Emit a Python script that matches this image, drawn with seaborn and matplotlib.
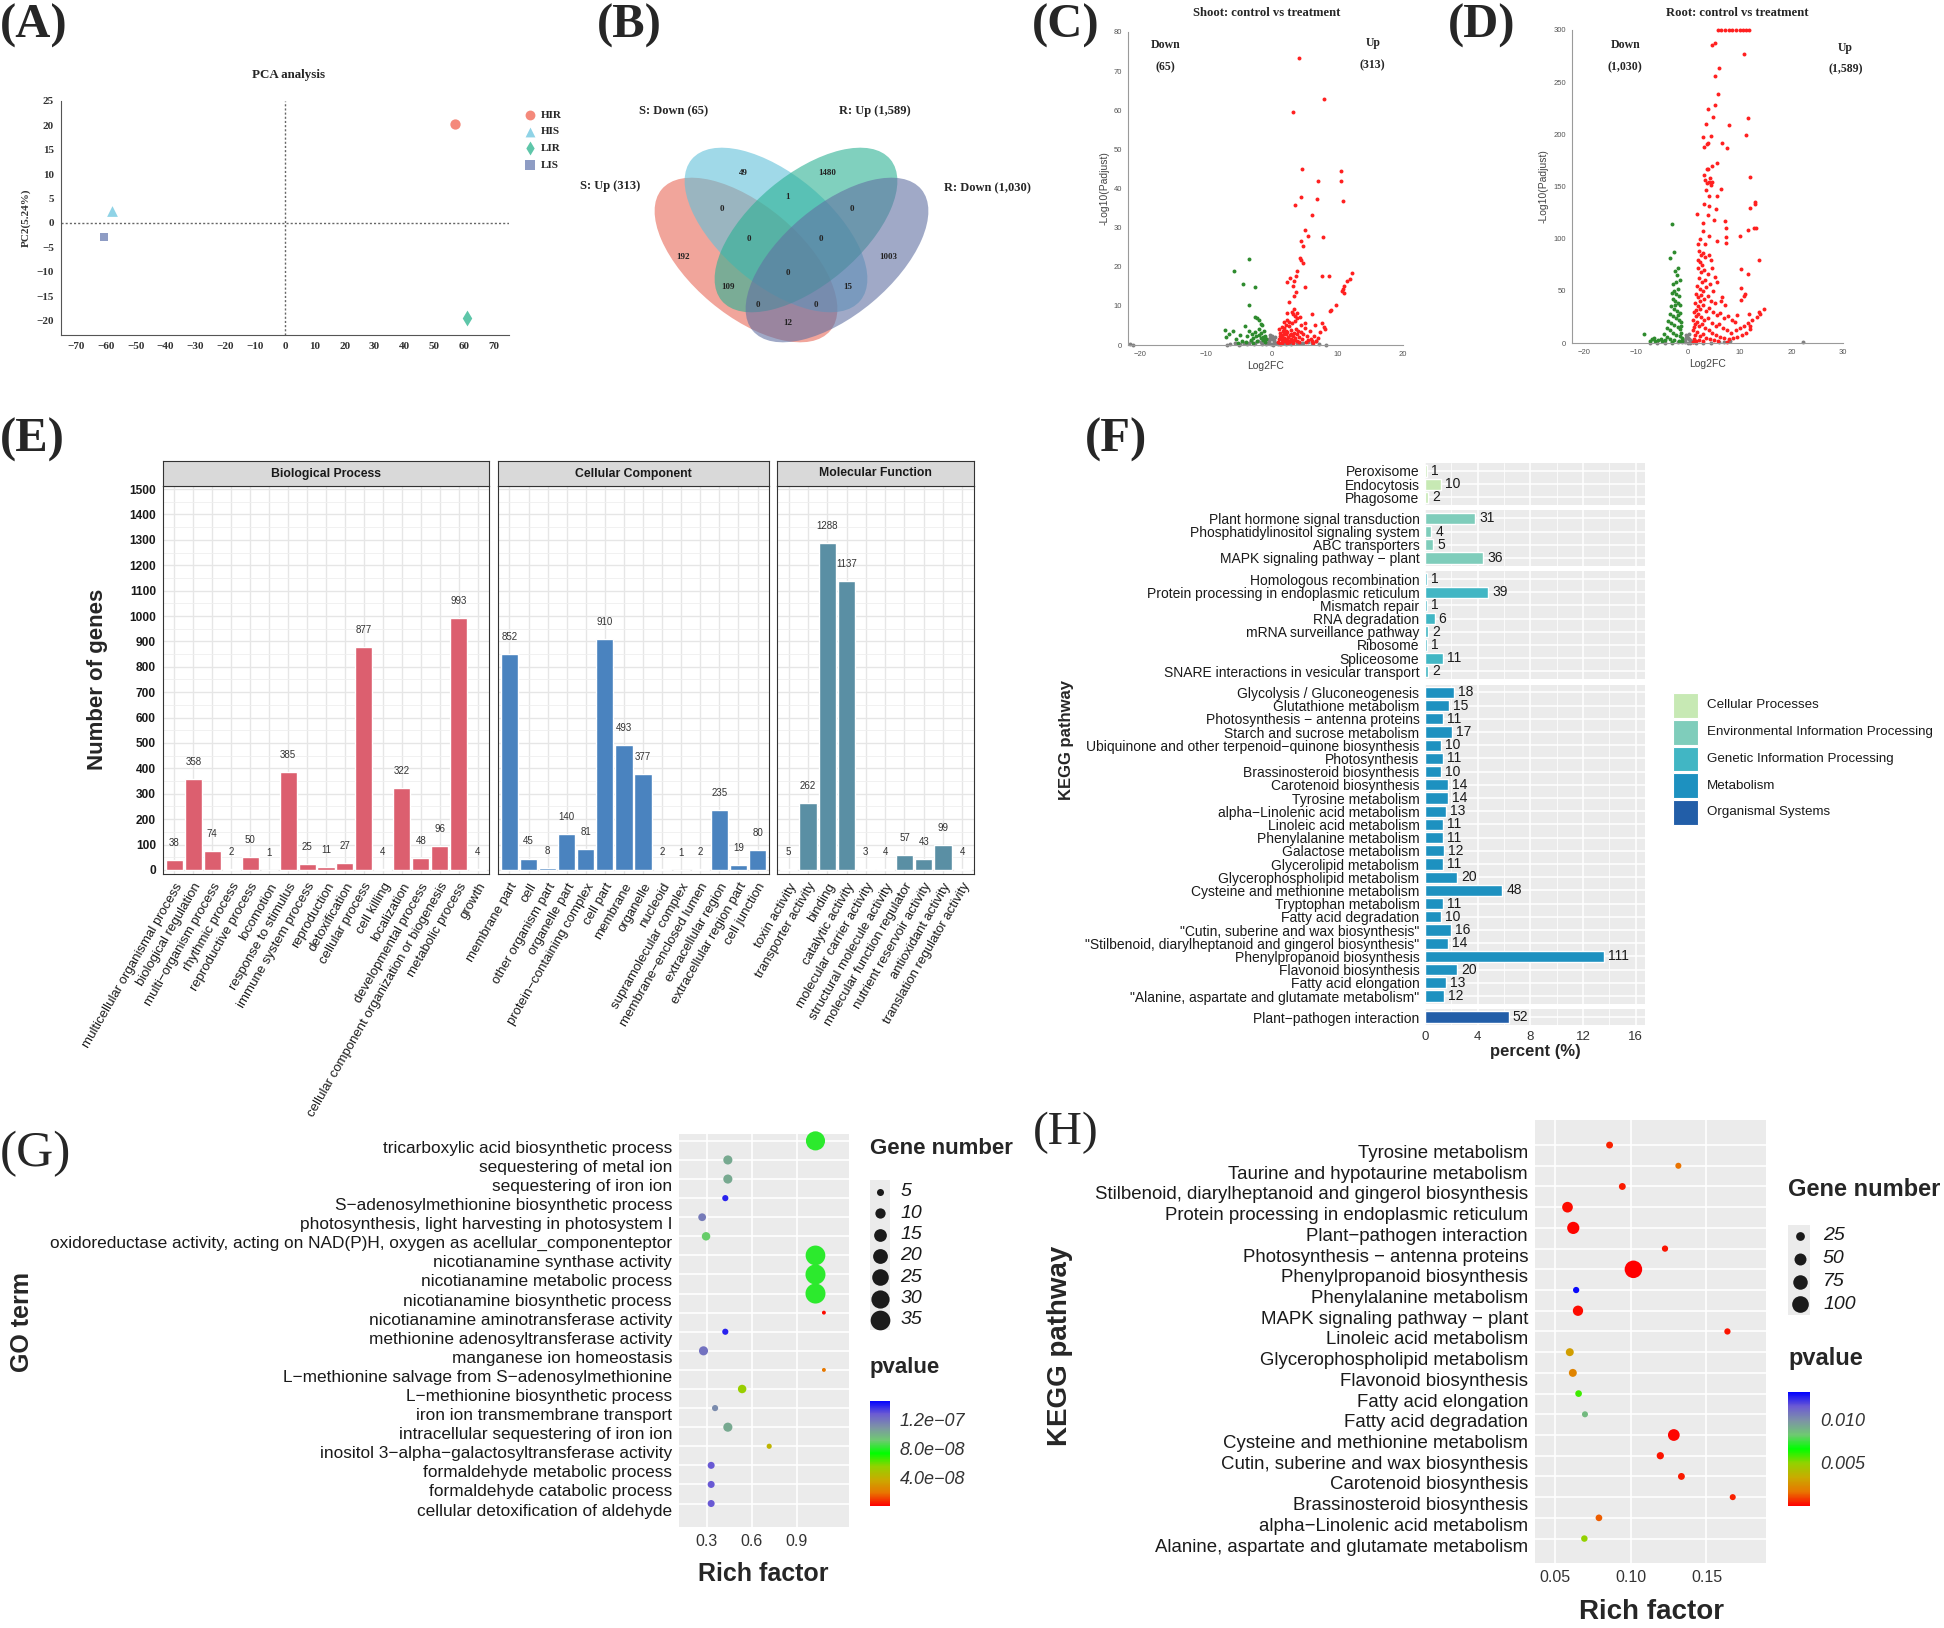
import numpy as np
import pandas as pd
import matplotlib
matplotlib.use("Agg")
import matplotlib.pyplot as plt
import seaborn as sns
from matplotlib.patches import Ellipse, Rectangle
from matplotlib.colors import LinearSegmentedColormap, Normalize
from matplotlib.ticker import MultipleLocator

W, H = 1944, 1628

# (A) PCA
pca_group = ["HIR", "HIS", "LIR", "LIS"]
pca_pc1 = [57.0, -58.0, 61.0, -60.5]
pca_pc2 = [20.3, 2.5, -19.5, -2.8]

# (B) Venn
venn_labels = ["S: Up (313)", "S: Down (65)", "R: Up (1,589)", "R: Down (1,030)"]
venn_counts = [49, 1480, 1, 0, 0, 0, 0, 192, 1003, 0, 109, 15, 0, 0, 12]

# (C) shoot volcano  (log2FC, -log10 padj)
shoot_ns = [(-21.6, 0.15), (-21.1, 0.1), (-6.8, 0.1), (-6.3, 0.3), (-5.6, 0.5), (-5.0, 0.1), (-4.9, 0.35),
            (-4.3, 0.6), (-3.7, 0.3), (-3.4, 0.45), (-3.1, 0.9), (-2.7, 0.2), (-2.6, 0.55), (-2.1, 1.0),
            (-1.7, 0.8), (-1.5, 0.2), (-1.3, 1.3), (-1.0, 0.7), (-0.8, 0.2), (-0.7, 1.5), (-0.5, 0.5),
            (-0.4, 1.1), (-0.3, 1.9), (-0.2, 2.6), (-0.1, 0.3), (0.0, 2.2), (0.1, 1.6), (0.2, 0.1),
            (0.3, 0.8), (0.4, 1.2), (0.5, 2.1), (0.7, 0.4), (0.9, 0.2), (1.4, 0.3), (1.8, 0.6), (2.1, 0.2),
            (2.5, 0.5), (2.9, 0.3), (3.3, 0.7), (3.8, 0.4), (4.3, 0.6), (4.7, 0.5), (5.5, 0.8), (6.1, 0.6),
            (6.7, 0.9), (7.2, 0.3), (8.3, 0.1)]
shoot_down = [(-7.1, 3.8), (-6.9, 2.0), (-6.5, 2.8), (-5.9, 3.7), (-5.5, 1.5), (-5.2, 0.6), (-4.9, 2.6),
              (-4.6, 1.0), (-4.0, 4.9), (-3.9, 0.7), (-3.7, 2.2), (-3.4, 3.5), (-3.2, 1.3), (-3.0, 2.8),
              (-2.9, 0.5), (-2.8, 1.7), (-2.6, 3.2), (-2.4, 2.3), (-2.2, 1.1), (-2.0, 2.6), (-1.9, 4.1),
              (-1.7, 1.8), (-1.6, 3.0), (-1.5, 5.1), (-1.4, 2.1), (-1.3, 1.2), (-1.2, 3.6), (-1.1, 0.8),
              (-1.0, 2.4), (-0.9, 1.5), (-2.5, 7.2), (-2.2, 6.8), (-2.0, 6.4), (-1.7, 5.4), (-3.4, 10.1),
              (-2.5, 14.8), (-4.4, 15.6), (-5.7, 18.8), (-3.5, 22.1)]
shoot_up = [(4.2, 73.3), (8.0, 62.9), (3.25, 59.5), (4.6, 44.9), (10.6, 44.5), (10.55, 42.0), (7.05, 42.0),
            (4.4, 37.8), (10.9, 36.9), (6.9, 37.4), (3.5, 35.8), (6.1, 33.2), (5.0, 29.3), (5.6, 27.9),
            (7.8, 27.5), (4.5, 26.7), (4.8, 25.2), (4.3, 22.3), (4.5, 21.7), (4.7, 20.9), (3.8, 18.9),
            (3.7, 17.7), (7.7, 17.7), (8.7, 17.7), (12.3, 18.5), (11.9, 16.8), (11.5, 16.4), (2.8, 17.2),
            (2.3, 16.1), (3.4, 16.4), (3.25, 15.1), (5.0, 14.9), (10.96, 15.1), (10.86, 14.2), (10.7, 13.9),
            (11.0, 13.4), (3.65, 13.6), (3.4, 12.5), (2.7, 11.0), (3.45, 9.1), (9.85, 10.1), (9.0, 9.0),
            (8.9, 8.7), (2.3, 8.3), (3.1, 8.4), (3.86, 8.1), (6.1, 7.8),
            (1.0, 0.8), (1.1, 1.5), (1.2, 2.2), (1.3, 3.0), (1.4, 0.5), (1.5, 1.2), (1.6, 2.6), (1.7, 3.6),
            (1.8, 1.8), (1.9, 4.3), (2.0, 0.9), (2.1, 2.9), (2.2, 5.2), (2.3, 1.4), (2.4, 3.3), (2.5, 2.0),
            (2.6, 4.8), (2.7, 0.7), (2.8, 2.5), (2.9, 3.9), (3.0, 1.6), (3.1, 5.6), (3.2, 2.3), (3.3, 0.9),
            (3.4, 3.1), (3.5, 6.2), (3.6, 1.9), (3.7, 4.0), (3.8, 2.7), (3.9, 1.1), (4.0, 3.5), (4.2, 2.1),
            (4.4, 5.0), (4.6, 1.5), (4.8, 2.9), (5.0, 4.3), (5.2, 0.8), (5.4, 2.4), (5.6, 1.3), (5.9, 3.6),
            (6.2, 1.0), (6.5, 2.2), (6.8, 0.9), (7.1, 1.8), (7.4, 3.3), (7.7, 5.6), (7.9, 4.6), (8.1, 4.0),
            (6.0, 1.5), (6.3, 0.6), (1.2, 0.3), (1.6, 0.6), (2.0, 1.6), (2.4, 0.4), (2.8, 1.1), (3.2, 0.5),
            (1.4, 2.0), (1.8, 2.7), (2.2, 3.6), (2.6, 1.0), (3.0, 2.8), (3.4, 1.4), (4.1, 0.7), (4.5, 3.4),
            (1.1, 4.0), (1.5, 4.6), (1.9, 5.8), (2.3, 6.5), (2.7, 6.0), (3.6, 7.4), (3.3, 7.9), (3.9, 6.8),
            (4.3, 7.1), (5.1, 5.6), (6.6, 5.2)]

# (D) root volcano
root_ns = [(-7.3, 0.3), (-6.0, 0.2), (-4.5, 0.4), (-3.0, 0.3), (-2.0, 0.6), (-1.2, 1.0), (-0.8, 2.0),
           (-0.6, 0.5), (-0.5, 3.0), (-0.4, 8.0), (-0.3, 4.5), (-0.1, 6.0), (0.0, 0.2), (0.1, 5.0),
           (0.2, 9.0), (0.3, 3.5), (0.4, 0.4), (0.5, 2.5), (0.7, 1.5), (0.9, 0.6), (1.5, 0.2), (3.0, 0.3),
           (4.5, 0.4), (6.0, 0.5), (7.0, 0.7), (8.2, 1.8), (22.2, 0.5)]
root_down = [(-3.1, 114), (-2.76, 87.4), (-3.4, 81.6), (-2.0, 72), (-2.4, 69), (-2.1, 65), (-1.6, 60),
             (-2.8, 57), (-2.3, 58), (-1.9, 52), (-2.6, 50), (-3.0, 48), (-2.2, 47), (-1.7, 45), (-2.9, 42),
             (-2.4, 40), (-1.9, 38), (-1.5, 36), (-2.5, 36), (-3.2, 35), (-2.7, 33), (-2.1, 31), (-1.6, 29),
             (-3.5, 28), (-1.9, 27), (-2.9, 26), (-2.3, 24), (-1.8, 22), (-1.3, 20), (-3.8, 21), (-3.2, 19),
             (-2.6, 17), (-1.3, 16), (-2.0, 15), (-1.5, 13), (-4.0, 14), (-3.4, 12), (-2.8, 10), (-1.4, 10),
             (-2.2, 8), (-1.6, 7), (-1.2, 5), (-4.6, 9), (-4.0, 6), (-3.4, 4), (-2.6, 3), (-1.8, 2),
             (-1.1, 1.5), (-5.2, 4), (-5.8, 3), (-6.4, 2), (-7.0, 3.5), (-6.6, 5), (-7.3, 1.5), (-8.55, 9),
             (-5.0, 1.5), (-4.4, 2.5), (-3.0, 1)]
root_up = [(5.9, 300), (6.5, 300), (7.2, 300), (7.9, 300), (8.6, 300), (9.3, 300), (10.0, 300), (10.6, 300),
           (11.2, 300), (11.8, 300), (4.75, 286), (5.3, 287.5), (10.9, 277), (6.1, 263.5), (5.3, 256),
           (5.85, 238.5), (5.3, 228.5), (3.86, 224.5), (4.95, 217), (11.6, 215.5), (3.6, 209.7), (8.0, 209),
           (4.4, 198), (3.0, 197), (11.2, 199), (6.7, 191.5), (7.6, 187), (3.86, 192), (3.7, 190.5),
           (3.1, 188), (4.75, 170), (5.65, 173), (3.66, 166.5), (3.9, 166.5), (12.0, 159.5), (3.1, 161),
           (3.3, 156), (4.3, 158), (4.1, 154), (4.7, 154), (3.7, 153), (4.4, 151.5), (6.4, 147.6),
           (3.5, 146.6), (5.65, 141), (4.0, 141), (13.05, 135.4), (12.9, 133.5), (3.1, 133), (4.0, 131.6),
           (5.5, 128), (12.0, 129), (1.8, 124), (3.9, 122.6), (7.2, 117.2), (5.1, 117.8), (3.0, 115),
           (12.7, 109.8), (13.2, 109.8), (11.6, 108), (2.9, 107), (7.3, 110), (10.1, 102.5), (4.0, 103),
           (2.3, 100), (5.65, 98), (7.4, 102), (7.4, 95.4), (2.0, 95), (3.4, 95), (2.2, 88), (2.6, 84),
           (3.0, 86), (1.9, 80), (13.7, 80), (2.4, 78), (2.8, 75), (3.4, 82), (4.0, 84), (4.4, 80),
           (2.0, 72), (10.2, 70.8), (2.5, 68), (3.2, 70), (3.8, 66), (4.6, 72), (11.6, 66), (5.2, 63),
           (2.1, 62), (2.7, 58), (3.3, 60), (1.8, 55), (2.3, 52), (10.3, 52.8), (2.9, 50), (3.6, 54),
           (4.2, 57), (4.9, 50), (5.6, 58), (11.0, 47.4), (10.9, 45.5), (1.6, 47), (2.0, 44), (6.6, 44),
           (2.6, 46), (3.1, 42), (3.8, 45), (10.2, 41), (4.5, 40), (2.4, 40), (5.3, 38), (6.4, 40),
           (7.1, 36), (1.4, 38), (1.9, 35), (2.4, 33), (3.0, 36), (3.5, 31), (1.5, 32), (14.65, 32.3),
           (4.1, 34), (4.8, 30), (5.6, 27), (6.3, 29), (7.0, 24), (7.8, 26), (9.45, 26.6), (11.9, 28),
           (8.6, 22), (9.2, 20), (1.2, 30), (1.5, 26), (2.0, 28), (2.6, 25), (3.2, 22), (3.9, 24),
           (4.6, 19), (5.4, 16), (6.0, 18), (6.8, 14), (7.6, 12), (8.4, 10), (9.3, 12), (10.1, 14),
           (10.9, 16), (12.1, 16), (11.7, 19), (12.5, 22), (13.3, 25), (14.0, 28), (13.8, 30), (1.0, 22),
           (1.3, 18), (1.7, 20), (2.2, 16), (2.8, 18), (3.4, 14), (1.2, 15), (4.0, 12), (4.7, 10),
           (5.5, 8), (6.2, 6), (7.0, 5), (7.9, 4), (8.8, 5), (9.6, 6), (10.4, 8), (11.2, 10), (12.0, 13),
           (1.0, 12), (1.4, 8), (1.8, 11), (2.4, 7), (3.0, 9), (3.6, 5), (4.3, 4), (5.0, 3), (5.8, 2),
           (1.1, 4), (1.6, 2), (2.2, 3), (2.9, 1.5), (1.0, 0.8), (7.5, 0.8)]

# (E) GO classification
bp_terms = ["multicellular organismal process", "biological regulation", "multi\u2212organism process",
            "rhythmic process", "reproductive process", "locomotion", "response to stimulus",
            "immune system process", "reproduction", "detoxification", "cellular process", "cell killing",
            "localization", "developmental process", "cellular component organization or biogenesis",
            "metabolic process", "growth"]
bp_counts = [38, 358, 74, 2, 50, 1, 385, 25, 11, 27, 877, 4, 322, 48, 96, 993, 4]
cc_terms = ["membrane part", "cell", "other organism part", "organelle part", "protein\u2212containing complex",
            "cell part", "membrane", "organelle", "nucleoid", "supramolecular complex",
            "membrane\u2212enclosed lumen", "extracellular region", "extracellular region part", "cell junction"]
cc_counts = [852, 45, 8, 140, 81, 910, 493, 377, 2, 1, 2, 235, 19, 80]
mf_terms = ["toxin activity", "transporter activity", "binding", "catalytic activity",
            "molecular carrier activity", "structural molecule activity", "molecular function regulator",
            "nutrient reservoir activity", "antioxidant activity", "translation regulator activity"]
mf_counts = [5, 262, 1288, 1137, 3, 4, 57, 43, 99, 4]

# (F) KEGG classification
kegg_classes = ["Cellular Processes", "Environmental Information Processing",
                "Genetic Information Processing", "Metabolism", "Organismal Systems"]
kegg_cp_terms = ["Peroxisome", "Endocytosis", "Phagosome"]
kegg_cp_counts = [1, 10, 2]
kegg_eip_terms = ["Plant hormone signal transduction", "Phosphatidylinositol signaling system",
                  "ABC transporters", "MAPK signaling pathway \u2212 plant"]
kegg_eip_counts = [31, 4, 5, 36]
kegg_gip_terms = ["Homologous recombination", "Protein processing in endoplasmic reticulum",
                  "Mismatch repair", "RNA degradation", "mRNA surveillance pathway", "Ribosome",
                  "Spliceosome", "SNARE interactions in vesicular transport"]
kegg_gip_counts = [1, 39, 1, 6, 2, 1, 11, 2]
kegg_met_terms = ["Glycolysis / Gluconeogenesis", "Glutathione metabolism",
                  "Photosynthesis \u2212 antenna proteins", "Starch and sucrose metabolism",
                  "Ubiquinone and other terpenoid\u2212quinone biosynthesis", "Photosynthesis",
                  "Brassinosteroid biosynthesis", "Carotenoid biosynthesis", "Tyrosine metabolism",
                  "alpha\u2212Linolenic acid metabolism", "Linoleic acid metabolism", "Phenylalanine metabolism",
                  "Galactose metabolism", "Glycerolipid metabolism", "Glycerophospholipid metabolism",
                  "Cysteine and methionine metabolism", "Tryptophan metabolism", "Fatty acid degradation",
                  "\"Cutin, suberine and wax biosynthesis\"",
                  "\"Stilbenoid, diarylheptanoid and gingerol biosynthesis\"",
                  "Phenylpropanoid biosynthesis", "Flavonoid biosynthesis", "Fatty acid elongation",
                  "\"Alanine, aspartate and glutamate metabolism\""]
kegg_met_counts = [18, 15, 11, 17, 10, 11, 10, 14, 14, 13, 11, 11, 12, 11, 20, 48, 11, 10, 16, 14, 111, 20, 13, 12]
kegg_os_terms = ["Plant\u2212pathogen interaction"]
kegg_os_counts = [52]
kegg_total = 816

# (G) GO enrichment
go_terms = ["tricarboxylic acid biosynthetic process", "sequestering of metal ion", "sequestering of iron ion",
            "S\u2212adenosylmethionine biosynthetic process", "photosynthesis, light harvesting in photosystem I",
            "oxidoreductase activity, acting on NAD(P)H, oxygen as acellular_componenteptor",
            "nicotianamine synthase activity", "nicotianamine metabolic process",
            "nicotianamine biosynthetic process", "nicotianamine aminotransferase activity",
            "methionine adenosyltransferase activity", "manganese ion homeostasis",
            "L\u2212methionine salvage from S\u2212adenosylmethionine", "L\u2212methionine biosynthetic process",
            "iron ion transmembrane transport", "intracellular sequestering of iron ion",
            "inositol 3\u2212alpha\u2212galactosyltransferase activity", "formaldehyde metabolic process",
            "formaldehyde catabolic process", "cellular detoxification of aldehyde"]
go_rich = [1.024, 0.441, 0.441, 0.424, 0.270, 0.296, 1.024, 1.024, 1.024, 1.080,
           0.424, 0.279, 1.080, 0.536, 0.356, 0.441, 0.716, 0.330, 0.330, 0.330]
go_genes = [33, 8, 8, 4, 6, 7, 35, 36, 36, 2, 4, 8, 2, 7, 4, 8, 3, 5, 5, 5]
go_p = [8.0e-8, 1.02e-7, 1.02e-7, 1.39e-7, 1.17e-7, 9.0e-8, 8.0e-8, 8.0e-8, 8.0e-8, 2e-9,
        1.39e-7, 1.2e-7, 1.9e-8, 5.3e-8, 1.12e-7, 1.02e-7, 4.0e-8, 1.28e-7, 1.28e-7, 1.28e-7]

# (H) KEGG enrichment
kp_terms = ["Tyrosine metabolism", "Taurine and hypotaurine metabolism",
            "Stilbenoid, diarylheptanoid and gingerol biosynthesis", "Protein processing in endoplasmic reticulum",
            "Plant\u2212pathogen interaction", "Photosynthesis \u2212 antenna proteins", "Phenylpropanoid biosynthesis",
            "Phenylalanine metabolism", "MAPK signaling pathway \u2212 plant", "Linoleic acid metabolism",
            "Glycerophospholipid metabolism", "Flavonoid biosynthesis", "Fatty acid elongation",
            "Fatty acid degradation", "Cysteine and methionine metabolism", "Cutin, suberine and wax biosynthesis",
            "Carotenoid biosynthesis", "Brassinosteroid biosynthesis", "alpha\u2212Linolenic acid metabolism",
            "Alanine, aspartate and glutamate metabolism"]
kp_rich = [0.0862, 0.1315, 0.0946, 0.0585, 0.0623, 0.1227, 0.1019, 0.0642, 0.0654, 0.1638,
           0.0600, 0.0620, 0.0658, 0.0700, 0.1285, 0.1196, 0.1335, 0.1673, 0.0792, 0.0696]
kp_genes = [14, 6, 14, 39, 52, 11, 111, 11, 36, 11, 20, 20, 13, 10, 48, 16, 14, 10, 13, 12]
kp_p = [0.0005, 0.0016, 0.0004, 0.0002, 0.0001, 0.0003, 0.00001, 0.0130, 0.0002, 0.0003,
        0.0029, 0.0021, 0.0059, 0.0087, 0.0001, 0.0003, 0.0004, 0.0005, 0.0013, 0.0049]

sns.set_style("white")
plt.rcParams['font.family'] = ['Liberation Sans', 'DejaVu Sans']
SERIF = ['Liberation Serif', 'DejaVu Serif']

fig = plt.figure(figsize=(W / 100, H / 100), dpi=100)


def px_axes(x0, y0, x1, y1):
    return fig.add_axes([x0 / W, 1 - y1 / H, (x1 - x0) / W, (y1 - y0) / H])


# ---------- (A) ----------
ax = px_axes(61, 101, 509, 335)
pca_pal = {"HIR": "#F4897B", "HIS": "#8FD3E6", "LIR": "#5EC6A9", "LIS": "#8E9CC4"}
pca_mk = {"HIR": "o", "HIS": "^", "LIR": "d", "LIS": "s"}
pca_s = {"HIR": 55, "HIS": 60, "LIR": 65, "LIS": 38}
df = pd.DataFrame({"pc1": pca_pc1, "pc2": pca_pc2, "group": pca_group})
for g in pca_group:
    sub = df[df.group == g]
    sns.scatterplot(data=sub, x="pc1", y="pc2", color=pca_pal[g], marker=pca_mk[g], s=pca_s[g],
                    linewidth=0, legend=False, ax=ax, zorder=3)
ax.axvline(0, color="#666666", ls=(0, (1.5, 1.5)), lw=1)
ax.axhline(0, color="#666666", ls=(0, (1.5, 1.5)), lw=1)
ax.set_xlim(-75, 75)
ax.set_ylim(-23, 25)
ax.set_xticks(range(-70, 71, 10))
ax.set_yticks(range(-20, 26, 5))
for s in ("top", "right"):
    ax.spines[s].set_visible(False)
for s in ("left", "bottom"):
    ax.spines[s].set_color("#555555")
ax.tick_params(length=3, color="#555555", labelsize=8, pad=2)
for t in ax.get_xticklabels() + ax.get_yticklabels():
    t.set_fontfamily(SERIF)
    t.set_fontweight("bold")
    t.set_color("#333333")
ax.set_xlabel("")
ax.set_ylabel("PC2(5.24%)", fontfamily=SERIF, fontweight="bold", fontsize=8, color="#333333", labelpad=4)

# ---------- (C)/(D) volcano ----------
def volcano(ax, ns, down, up, xlim, ylim, xt, yt):
    for pts, col in ((ns, "#808080"), (down, "#2E8B2E"), (up, "#FF2020")):
        a = np.asarray(pts, dtype=float)
        sns.scatterplot(x=a[:, 0], y=a[:, 1], color=col, s=8, linewidth=0, ax=ax, clip_on=False)
    ax.set_xlim(*xlim)
    ax.set_ylim(*ylim)
    ax.set_xticks(xt)
    ax.set_yticks(yt)
    for s in ("top", "right"):
        ax.spines[s].set_visible(False)
    for s in ("left", "bottom"):
        ax.spines[s].set_color("#9A9A9A")
        ax.spines[s].set_linewidth(0.8)
    ax.tick_params(labelsize=5.5, colors="#555555", length=2.5, width=0.6, pad=2)
    ax.set_xlabel("Log2FC", fontsize=7.5, color="#444444", labelpad=2)
    ax.set_ylabel("-Log10(Padjust)", fontsize=7.5, color="#444444", labelpad=3)


axc = px_axes(1128, 32, 1403, 345)
volcano(axc, shoot_ns, shoot_down, shoot_up, (-21.9, 20), (0, 80), range(-20, 21, 10), range(0, 81, 10))
for x, y, s in ((-16.2, 76.8, "Down"), (-16.2, 71.0, "(65)"), (15.4, 77.2, "Up"), (15.4, 71.5, "(313)")):
    axc.text(x, y, s, ha="center", va="center", fontsize=8.5, fontweight="bold", fontfamily=SERIF)

axd = px_axes(1572, 30, 1843, 343)
volcano(axd, root_ns, root_down, root_up, (-22.4, 30), (0, 300), range(-20, 31, 10), range(0, 301, 50))
for x, y, s in ((-12.1, 286, "Down"), (-12.1, 264, "(1,030)"), (30.5, 283, "Up"), (30.5, 262, "(1,589)")):
    axd.text(x, y, s, ha="center", va="center", fontsize=8.5, fontweight="bold", fontfamily=SERIF,
             clip_on=False)

# ---------- (E) GO classification ----------
def strip(x0, x1, label):
    s = px_axes(x0, 461, x1, 486)
    s.set_facecolor("#D9D9D9")
    s.set_xticks([])
    s.set_yticks([])
    for sp in s.spines.values():
        sp.set_color("#333333")
        sp.set_linewidth(0.8)
    s.text(0.5, 0.5, label, transform=s.transAxes, ha="center", va="center", fontsize=8.8,
           fontweight="bold", color="#1a1a1a")


def go_bar(x0, x1, terms, counts, color, label, show_y):
    ax = px_axes(x0, 486, x1, 874)
    n = len(terms)
    sns.barplot(x=terms, y=counts, color=color, width=0.9, saturation=1, ax=ax, zorder=2)
    ax.set_xlim(-0.6, n - 0.4)
    ax.set_ylim(-16, 1512)
    ax.yaxis.set_major_locator(MultipleLocator(100))
    ax.yaxis.set_minor_locator(MultipleLocator(50))
    ax.set_axisbelow(True)
    ax.grid(axis="y", which="major", color="#E6E6E6", lw=1.0)
    ax.grid(axis="y", which="minor", color="#EFEFEF", lw=0.6)
    ax.grid(axis="x", which="major", color="#E6E6E6", lw=1.0)
    for sp in ax.spines.values():
        sp.set_color("#333333")
        sp.set_linewidth(0.8)
    ax.set_xticks(range(n))
    ax.set_xticklabels(terms, rotation=60, ha="right", va="top", rotation_mode="anchor",
                       fontsize=9.5, color="#1a1a1a")
    ax.tick_params(axis="x", length=3, color="#333333", pad=2)
    ax.tick_params(axis="y", which="minor", length=0)
    if show_y:
        ax.tick_params(axis="y", length=3, color="#333333", labelsize=8.6, pad=2)
        for t in ax.get_yticklabels():
            t.set_fontweight("bold")
            t.set_color("#1a1a1a")
    else:
        ax.tick_params(axis="y", length=0, labelleft=False)
    for i, v in enumerate(counts):
        ax.text(i, v + 67, str(v), ha="center", va="center", fontsize=7, color="#333333")
    ax.set_xlabel("")
    ax.set_ylabel("")
    strip(x0, x1, label)


go_bar(163, 489, bp_terms, bp_counts, "#DC5F6F", "Biological Process", True)
go_bar(498, 769, cc_terms, cc_counts, "#4A83BF", "Cellular Component", False)
go_bar(777, 974, mf_terms, mf_counts, "#5A8FA4", "Molecular Function", False)

# ---------- (F) KEGG classification ----------
kegg_colors = ["#C7E9B4", "#7FCDBB", "#41B6C4", "#1D91C0", "#225EA8"]
kegg_sets = [(kegg_cp_terms, kegg_cp_counts), (kegg_eip_terms, kegg_eip_counts),
             (kegg_gip_terms, kegg_gip_counts), (kegg_met_terms, kegg_met_counts),
             (kegg_os_terms, kegg_os_counts)]
pitch, gap, ytop = 13.2, 5.2, 463
for k, ((terms, counts), col) in enumerate(zip(kegg_sets, kegg_colors)):
    n = len(terms)
    h = (n + 0.2) * pitch
    ax = px_axes(1425, ytop, 1645, ytop + h)
    pct = np.array(counts) / kegg_total * 100
    sns.barplot(x=pct, y=terms, color=col, orient="h", width=0.85, saturation=1, ax=ax, zorder=2)
    ax.set_ylim(n - 0.4, -0.6)
    ax.set_xlim(0, 16.7)
    ax.set_facecolor("#EBEBEB")
    ax.set_xticks([0, 4, 8, 12, 16])
    ax.xaxis.set_minor_locator(MultipleLocator(2))
    ax.set_axisbelow(True)
    ax.grid(which="major", color="white", lw=1.1)
    ax.grid(axis="x", which="minor", color="white", lw=0.55)
    for sp in ax.spines.values():
        sp.set_visible(False)
    ax.tick_params(axis="y", length=2.5, color="#333333", labelsize=10, pad=1.5, labelcolor="#1a1a1a")
    ax.tick_params(axis="x", which="minor", length=0)
    if k == len(kegg_sets) - 1:
        ax.tick_params(axis="x", length=2.5, color="#333333", labelsize=9.5, labelcolor="#333333", pad=1.5)
        ax.set_xlabel("percent (%)", fontsize=12, fontweight="bold", labelpad=1)
    else:
        ax.tick_params(axis="x", length=0, labelbottom=False)
        ax.set_xlabel("")
    ax.set_ylabel("")
    for i, (p, c) in enumerate(zip(pct, counts)):
        ax.text(p + 0.3, i, str(c), va="center", ha="left", fontsize=10, color="#1a1a1a")
    ytop += h + gap

# ---------- (G)/(H) bubble ----------
grad = LinearSegmentedColormap.from_list(
    "rgb_lab", ["#FF0000", "#E87600", "#C9AB00", "#92D200", "#00FF00", "#6FC972", "#7D93A6", "#6C5BD3", "#0000FF"])


def bubble(box, terms, rich, genes, pvals, pnorm, sizes, snorm, xlim, xticks, xlabels, ylim, fs):
    ax = px_axes(*box)
    n = len(terms)
    df = pd.DataFrame({"rich": rich, "row": np.arange(n), "genes": genes, "p": pvals})
    sns.scatterplot(data=df, x="rich", y="row", hue="p", palette=grad, hue_norm=pnorm, size="genes",
                    sizes=sizes, size_norm=snorm, legend=False, linewidth=0, ax=ax, clip_on=False, zorder=3)
    ax.set_facecolor("#EBEBEB")
    ax.set_xlim(*xlim)
    ax.set_ylim(*ylim)
    ax.set_xticks(xticks)
    ax.set_xticklabels(xlabels, fontsize=11.5, color="#333333")
    ax.set_yticks(range(n))
    ax.set_yticklabels(terms, fontsize=fs, color="#1a1a1a", va="top")
    ax.set_axisbelow(True)
    ax.grid(which="major", color="white", lw=1.2)
    for sp in ax.spines.values():
        sp.set_visible(False)
    ax.tick_params(length=3, color="#333333", pad=2)
    ax.set_xlabel("")
    ax.set_ylabel("")
    return ax


bubble((679, 1134, 849, 1527), go_terms, go_rich, go_genes, go_p, (0, 1.46e-7), (8, 207), (2, 36),
       (0.116, 1.247), [0.3, 0.6, 0.9], ["0.3", "0.6", "0.9"], (20.23, -0.36), 12.4)
bubble((1535, 1120, 1766, 1563), kp_terms, kp_rich, kp_genes, kp_p, (0, 0.0132), (19, 159), (10, 111),
       (0.0371, 0.1892), [0.05, 0.10, 0.15], ["0.05", "0.10", "0.15"], (20.18, -1.21), 13.4)


def pbar(box, pnorm, ticks, labels):
    cax = px_axes(*box)
    cb = fig.colorbar(plt.cm.ScalarMappable(norm=Normalize(*pnorm), cmap=grad), cax=cax, ticks=ticks)
    cb.outline.set_visible(False)
    cax.yaxis.set_ticks_position("both")
    cax.tick_params(length=4, width=1, color="white", direction="in", labelsize=13, pad=7,
                    labelleft=False, labelright=True, labelcolor="#333333")
    cax.set_yticklabels(labels, style="italic")


pbar((869.6, 1400.6, 890, 1506), (0, 1.46e-7), [4e-8, 8e-8, 1.2e-7], ["4.0e\u221208", "8.0e\u221208", "1.2e\u221207"])
pbar((1788, 1392, 1810, 1506), (0, 0.0132), [0.005, 0.010], ["0.005", "0.010"])

# ---------- overlay: labels, Venn, legends ----------
ov = fig.add_axes([0, 0, 1, 1], zorder=10)
ov.set_xlim(0, W)
ov.set_ylim(H, 0)
ov.set_axis_off()

for x, y, s, fs, wt in ((0, 4, "(A)", 35, "bold"), (597, 4, "(B)", 35, "bold"), (1032, 4, "(C)", 35, "bold"),
                        (1448, 4, "(D)", 35, "bold"), (0, 418, "(E)", 35, "bold"), (1085, 418, "(F)", 35, "bold"),
                        (0, 1131, "(G)", 37, "normal"), (1033, 1112, "(H)", 34, "normal")):
    ov.text(x, y, s, fontsize=fs, fontweight=wt, fontfamily=SERIF, ha="left", va="top")

# A title + legend
ov.text(289, 75, "PCA analysis", fontsize=9.4, fontweight="bold", fontfamily=SERIF, ha="center", va="center")
for i, g in enumerate(pca_group):
    y = 115 + i * 16.7
    ov.scatter([530], [y], s=50, marker=pca_mk[g], color=pca_pal[g], linewidth=0)
    ov.text(541, y, g, fontsize=8, fontweight="bold", fontfamily=SERIF, va="center", ha="left")

# B Venn
venn_colors = ["#E86958", "#61C1D9", "#2BB193", "#6171A3"]
venn_shapes = [((746, 260), 40), ((776, 230), 40), ((806, 230), -40), ((837, 260), -40)]
for (c, ang), col in zip(venn_shapes, venn_colors):
    ov.add_patch(Ellipse(c, 220, 110, angle=ang, facecolor=col, alpha=0.6, edgecolor="none"))
venn_pos = [(743, 173), (827, 173), (788, 197), (722, 209), (852, 209), (749, 239), (821, 239), (683, 257),
            (888, 257), (788, 273), (728, 287), (848, 287), (758, 305), (816, 305), (788, 323)]
for (x, y), v in zip(venn_pos, venn_counts):
    ov.text(x, y, str(v), fontsize=6.5, fontweight="bold", fontfamily=SERIF, ha="center", va="center",
            color="#222222")
for (x, y), s in zip([(610, 186), (674, 111), (875, 111), (987, 188)], venn_labels):
    ov.text(x, y, s, fontsize=9, fontweight="bold", fontfamily=SERIF, ha="center", va="center")

# C/D titles
ov.text(1267, 13, "Shoot: control vs treatment", fontsize=9.1, fontweight="bold", fontfamily=SERIF,
        ha="center", va="center")
ov.text(1737, 13, "Root: control vs treatment", fontsize=9.1, fontweight="bold", fontfamily=SERIF,
        ha="center", va="center")

# E y label
ov.text(97, 679, "Number of genes", rotation=90, fontsize=16, fontweight="bold", ha="center", va="center")

# F y label + legend
ov.text(1066, 740, "KEGG pathway", rotation=90, fontsize=12, fontweight="bold", ha="center", va="center")
for i, (lab, col) in enumerate(zip(kegg_classes, kegg_colors)):
    yc = 705.5 + i * 26.7
    ov.add_patch(Rectangle((1673, yc - 12.3), 24.6, 24.6, facecolor=col, edgecolor="white", lw=0.8))
    ov.text(1707, yc, lab, fontsize=9.6, va="center", ha="left", color="#1a1a1a")

# G axis titles + size legend
ov.text(22, 1322, "GO term", rotation=90, fontsize=18, fontweight="bold", ha="center", va="center")
ov.text(763, 1574, "Rich factor", fontsize=18, fontweight="bold", ha="center", va="center")
ov.text(869.6, 1148, "Gene number", fontsize=16, fontweight="bold", ha="left", va="center")
ov.text(869.6, 1368, "pvalue", fontsize=16, fontweight="bold", ha="left", va="center")
ov.add_patch(Rectangle((869.6, 1180), 20.4, 150, facecolor="#EBEBEB", edgecolor="none"))
for i, v in enumerate([5, 10, 15, 20, 25, 30, 35]):
    y = 1192 + i * 21.3
    ov.scatter([879.8], [y], s=8 + (v - 2) / 34 * 199, color="#1a1a1a", linewidth=0)
    ov.text(900.5, y, str(v), fontsize=14, style="italic", va="center", ha="left", color="#1a1a1a")

# H axis titles + size legend
ov.text(1060, 1346, "KEGG pathway", rotation=90, fontsize=20, fontweight="bold", ha="center", va="center")
ov.text(1651, 1612, "Rich factor", fontsize=20, fontweight="bold", ha="center", va="center")
ov.text(1788, 1189.5, "Gene number", fontsize=17, fontweight="bold", ha="left", va="center")
ov.text(1788, 1358, "pvalue", fontsize=17, fontweight="bold", ha="left", va="center")
ov.add_patch(Rectangle((1788, 1225), 22, 90, facecolor="#EBEBEB", edgecolor="none"))
for i, v in enumerate([25, 50, 75, 100]):
    y = 1236 + i * 22.8
    ov.scatter([1799.5], [y], s=19 + (v - 10) / 101 * 140, color="#1a1a1a", linewidth=0)
    ov.text(1823, y, str(v), fontsize=14, style="italic", va="center", ha="left", color="#1a1a1a")

fig.savefig("out.png", dpi=100)
